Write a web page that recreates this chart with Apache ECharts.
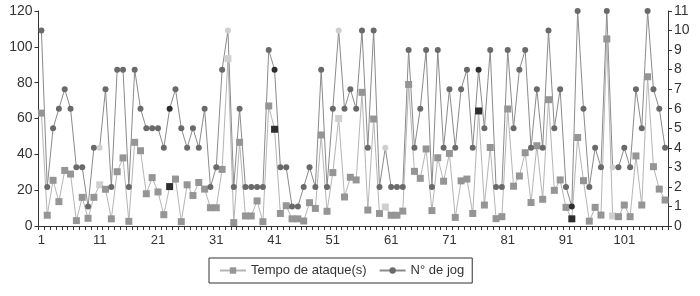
<!DOCTYPE html>
<html>
<head>
<meta charset="utf-8">
<script src="https://cdn.jsdelivr.net/npm/echarts@6/dist/echarts.min.js"></script>
<style>
  html, body { margin: 0; padding: 0; background: #fff; }
  #chart { width: 700px; height: 296px; }
</style>
</head>
<body>
<div id="chart"></div>
<script>
// 数据
const categories = Array.from({ length: 108 }, (_, i) => String(i + 1))

const tempoAtaque = [
  63, 6, 25.5, 13.6, 31, 29, 3, 16, 4.3, 16,
  23, 20.5, 4, 30.3, 38, 2.6, 46.7, 42, 18, 27,
  19, 6.3, 22, 26.2, 2.4, 23, 17, 24.3, 20.6, 10.2,
  10.2, 31.6, 93.4, 1.9, 46.7, 5.6, 5.6, 14, 2.4, 67,
  54, 7, 11.3, 4, 4, 2.8, 13, 9.8, 50.8, 8.2,
  29.8, 60, 16.2, 27.2, 25.7, 74.6, 8.9, 59.7, 7, 10.6,
  6, 6, 8.3, 79, 30.5, 26.6, 43, 8.6, 38.1, 25,
  40.5, 4.8, 25.2, 26.2, 7, 64.2, 11.7, 43.8, 4.1, 5.2,
  65.3, 22.2, 27.9, 40.9, 13.1, 44.8, 14.9, 70.5, 19.9, 25.7,
  10.4, 4, 49.4, 25.3, 2.7, 10.4, 6.1, 104.4, 5.6, 5.2,
  11.7, 5.2, 39.1, 11.7, 83.3, 33.1, 20.6, 14.5
]

const numJog = [
  10, 2, 5, 6, 7, 6, 3, 3, 1, 4,
  4, 7, 2, 8, 8, 2, 8, 6, 5, 5,
  5, 4, 6, 7, 5, 4, 5, 4, 6, 2,
  3, 8, 10, 2, 6, 2, 2, 2, 2, 9,
  8, 3, 3, 1, 1, 2, 3, 2, 8, 2,
  6, 10, 6, 7, 6, 10, 4, 10, 2, 4,
  2, 2, 2, 9, 4, 6, 9, 2, 9, 4,
  7, 4, 7, 8, 4, 8, 5, 9, 2, 2,
  9, 5, 8, 9, 4, 7, 4, 10, 5, 7,
  2, 1, 11, 6, 2, 4, 3, 11, 3, 3,
  4, 3, 7, 5, 11, 7, 6, 4
]

// pontos destacados (número do jogo)
const lightPoints = [11, 33, 52, 60, 99]
const darkPoints = [23, 41, 76, 92]

const FONT = "'Liberation Sans', Arial, sans-serif"

function markPoints(values, baseColor) {
  return values.map((v, i) => {
    const n = i + 1
    if (lightPoints.includes(n)) return { value: v, itemStyle: { color: '#cfcfcf' } }
    if (darkPoints.includes(n)) return { value: v, itemStyle: { color: '#2e2e2e' } }
    return { value: v, itemStyle: { color: baseColor } }
  })
}

const chart = echarts.init(document.getElementById('chart'))

const axisStyle = {
  axisLine: { show: true, lineStyle: { color: '#333', width: 1 } },
  axisTick: { show: true, length: 4, lineStyle: { color: '#333' } },
  splitLine: { show: false }
}

chart.setOption({
  animation: false,
  backgroundColor: '#fff',
  textStyle: { fontFamily: FONT },
  grid: { left: 38.5, right: 32, top: 11, bottom: 70 },
  legend: {
    left: 209,
    top: 258,
    padding: [6, 8, 6, 10],
    borderColor: '#333',
    borderWidth: 1,
    itemWidth: 26,
    itemHeight: 8,
    itemGap: 12,
    textStyle: { fontFamily: FONT, fontSize: 13, color: '#333' },
    data: ['Tempo de ataque(s)', 'N° de jog']
  },
  xAxis: {
    type: 'category',
    data: categories,
    boundaryGap: true,
    ...axisStyle,
    axisLabel: { interval: 9, fontSize: 13, color: '#333', margin: 8, fontFamily: FONT },
    axisTick: { show: true, length: 4, interval: 0, lineStyle: { color: '#333' } }
  },
  yAxis: [
    {
      type: 'value',
      min: 0,
      max: 120,
      interval: 20,
      position: 'left',
      ...axisStyle,
      axisLabel: { fontSize: 14, color: '#333', margin: 6, fontFamily: FONT }
    },
    {
      type: 'value',
      min: 0,
      max: 11,
      interval: 1,
      position: 'right',
      ...axisStyle,
      axisLabel: { fontSize: 14, color: '#333', margin: 6, fontFamily: FONT }
    }
  ],
  series: [
    {
      name: 'Tempo de ataque(s)',
      type: 'line',
      yAxisIndex: 0,
      data: markPoints(tempoAtaque, '#959595'),
      symbol: 'rect',
      symbolSize: 7,
      showAllSymbol: true,
      itemStyle: { color: '#959595' },
      lineStyle: { color: '#b5b5b5', width: 1 }
    },
    {
      name: 'N° de jog',
      type: 'line',
      yAxisIndex: 1,
      data: markPoints(numJog, '#6a6a6a'),
      symbol: 'circle',
      symbolSize: 6,
      showAllSymbol: true,
      itemStyle: { color: '#6a6a6a' },
      lineStyle: { color: '#8a8a8a', width: 1 }
    }
  ]
})
</script>
</body>
</html>
